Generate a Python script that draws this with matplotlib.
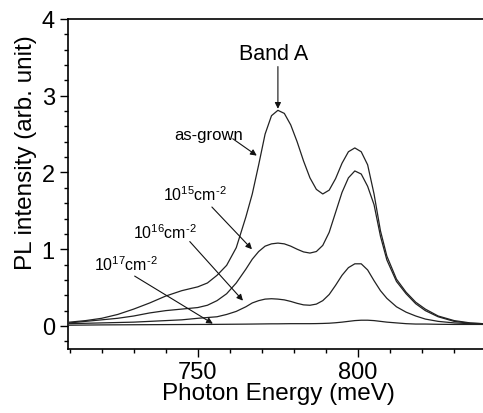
import matplotlib
matplotlib.use("Agg")
import matplotlib.pyplot as plt
from matplotlib.ticker import MultipleLocator

plt.rcParams["font.family"] = ["Liberation Sans", "DejaVu Sans"]
plt.rcParams["mathtext.fontset"] = "custom"
plt.rcParams["mathtext.rm"] = "Liberation Sans"
plt.rcParams["mathtext.it"] = "Liberation Sans"

# photon energy (meV)
energy = [710, 715, 720, 725, 730, 735, 740, 745, 750, 753, 756, 759, 762, 765,
          767, 769, 771, 773, 775, 777, 779, 781, 783, 785, 787, 789, 791, 793,
          795, 797, 799, 801, 803, 805, 807, 809, 812, 815, 818, 821, 825, 830,
          835, 839]

# PL intensity (arb. unit)
as_grown = [0.05, 0.07, 0.10, 0.15, 0.22, 0.30, 0.39, 0.46, 0.51, 0.56, 0.66, 0.79,
            1.02, 1.42, 1.72, 2.10, 2.50, 2.74, 2.81, 2.77, 2.62, 2.40, 2.15, 1.93,
            1.78, 1.72, 1.77, 1.92, 2.12, 2.27, 2.32, 2.27, 2.10, 1.72, 1.24, 0.91,
            0.61, 0.44, 0.31, 0.22, 0.13, 0.07, 0.04, 0.03]
dose_15 = [0.04, 0.06, 0.08, 0.10, 0.13, 0.17, 0.20, 0.22, 0.24, 0.27, 0.33, 0.42,
           0.56, 0.74, 0.87, 0.97, 1.04, 1.07, 1.08, 1.07, 1.04, 1.00, 0.965, 0.95,
           0.97, 1.05, 1.22, 1.48, 1.74, 1.93, 2.02, 1.98, 1.82, 1.58, 1.17, 0.86,
           0.58, 0.42, 0.29, 0.20, 0.12, 0.06, 0.035, 0.03]
dose_16 = [0.03, 0.035, 0.04, 0.045, 0.05, 0.06, 0.07, 0.08, 0.10, 0.11, 0.12, 0.15,
           0.19, 0.25, 0.30, 0.33, 0.35, 0.355, 0.35, 0.34, 0.32, 0.295, 0.275, 0.27,
           0.285, 0.33, 0.41, 0.53, 0.66, 0.76, 0.81, 0.81, 0.73, 0.59, 0.46, 0.36,
           0.25, 0.18, 0.13, 0.09, 0.06, 0.04, 0.03, 0.03]
dose_17 = [0.01, 0.012, 0.014, 0.015, 0.016, 0.017, 0.018, 0.019, 0.02, 0.02, 0.021, 0.022,
           0.023, 0.024, 0.025, 0.026, 0.027, 0.028, 0.028, 0.029, 0.03, 0.03, 0.03, 0.03,
           0.031, 0.033, 0.036, 0.042, 0.05, 0.06, 0.07, 0.075, 0.075, 0.07, 0.06, 0.05,
           0.04, 0.03, 0.025, 0.025, 0.022, 0.02, 0.02, 0.02]

fig = plt.figure(figsize=(4.83, 4.14), dpi=100)
ax = fig.add_axes([0.1408, 0.1546, 0.8592, 0.7971])

for y in [as_grown, dose_15, dose_16, dose_17]:
    ax.plot(energy, y, color="#222222", lw=0.9)

ax.set_xlim(709.5, 839)
ax.set_ylim(-0.3, 4)
ax.xaxis.set_major_locator(MultipleLocator(50))
ax.xaxis.set_minor_locator(MultipleLocator(10))
ax.yaxis.set_major_locator(MultipleLocator(1))
ax.yaxis.set_minor_locator(MultipleLocator(0.2))
ax.tick_params(which="major", length=5.5, width=1.0, labelsize=17, pad=4)
ax.tick_params(which="minor", length=3.0, width=1.0)
ax.tick_params(axis="x", which="major", pad=3)
ax.spines["right"].set_visible(False)
for s in ["left", "bottom", "top"]:
    ax.spines[s].set_linewidth(1.2)

ax.set_xlabel("Photon Energy (meV)", fontsize=17.5)
ax.set_ylabel("PL intensity (arb. unit)", fontsize=17.5)
ax.xaxis.set_label_coords(0.507, -0.10)
ax.yaxis.set_label_coords(-0.075, 0.598)

arrow = dict(arrowstyle="-|>", lw=0.8, color="#111111", mutation_scale=9,
             shrinkA=0, shrinkB=0)

ax.text(773.6, 3.55, "Band A", fontsize=15.5, ha="center", va="center")
ax.annotate("", xy=(775, 2.83), xytext=(775, 3.38), arrowprops=arrow)

ax.text(753.4, 2.49, "as-grown", fontsize=12, ha="center", va="center")
ax.annotate("", xy=(768.4, 2.22), xytext=(760.9, 2.44), arrowprops=arrow)

ax.text(749.1, 1.72, r"10$^{15}$cm$^{\text{-2}}$", fontsize=11.5, ha="center", va="center")
ax.annotate("", xy=(766.9, 1.0), xytext=(754.4, 1.55), arrowprops=arrow)

ax.text(739.7, 1.23, r"10$^{16}$cm$^{\text{-2}}$", fontsize=11.5, ha="center", va="center")
ax.annotate("", xy=(764.1, 0.33), xytext=(747.5, 1.10), arrowprops=arrow)

ax.text(727.7, 0.81, r"10$^{17}$cm$^{\text{-2}}$", fontsize=11.5, ha="center", va="center")
ax.annotate("", xy=(754.7, 0.03), xytext=(730.3, 0.65), arrowprops=arrow)

plt.savefig("out.png", dpi=100)
